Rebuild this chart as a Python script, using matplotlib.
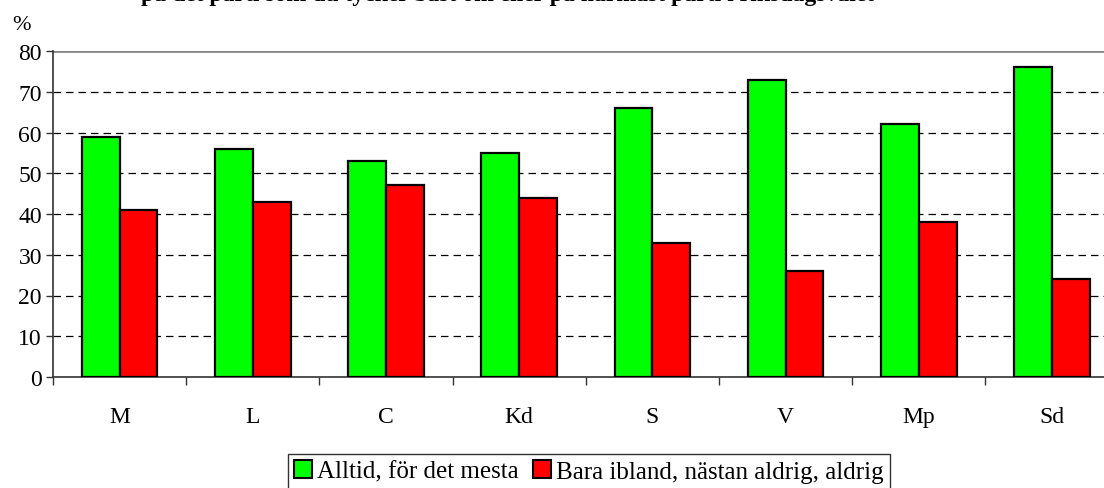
import matplotlib
matplotlib.use("Agg")
import matplotlib.pyplot as plt
import numpy as np
from matplotlib.patches import Patch

categories = ["M", "L", "C", "Kd", "S", "V", "Mp", "Sd"]
alltid = [59, 56, 53, 55, 66, 73, 62, 76]
bara = [41, 43, 47, 44, 33, 26, 38, 24]
series_names = ["Alltid, för det mesta", "Bara ibland, nästan aldrig, aldrig"]
yticks = [0, 10, 20, 30, 40, 50, 60, 70, 80]
title = "på det parti som du tycker bäst om eller på närmast parti i riksdagsvalet"

plt.rcParams['font.family'] = ['Liberation Serif', 'DejaVu Serif']

W, H = 1104, 489
fig = plt.figure(figsize=(W / 100, H / 100), dpi=100)
left, right, bottom, top = 53, 1118.6, 378, 52
ax = fig.add_axes([left / W, (H - bottom) / H, (right - left) / W, (bottom - top) / H])

x = np.arange(len(categories))
bw = 0.284
ax.bar(x - bw / 2, alltid, bw, color="#00ff00", edgecolor="black", linewidth=1.6, zorder=3)
ax.bar(x + bw / 2, bara, bw, color="#ff0000", edgecolor="black", linewidth=1.6, zorder=3)

ax.set_xlim(-0.5, len(categories) - 0.5)
ax.set_ylim(0, 80)
ax.set_yticks(yticks)
ax.set_yticklabels([str(v) for v in yticks], fontsize=17)
ax.set_xticks(x)
ax.set_xticklabels(categories, fontsize=17)
ax.tick_params(axis='x', length=0, pad=21)
ax.set_xticks(np.arange(len(categories) + 1) - 0.5, minor=True)
ax.tick_params(axis='x', which='minor', length=6, width=1, color='#333333')
ax.tick_params(axis='y', length=5, width=1, color='#333333', pad=3)

for v in yticks[1:-1]:
    ax.axhline(v, color='black', linestyle=(0, (6, 4)), linewidth=0.9, zorder=1)
ax.axhline(80, color='#888888', linewidth=2, zorder=1)

ax.spines['right'].set_visible(False)
ax.spines['top'].set_visible(False)
ax.spines['left'].set_linewidth(1.2)
ax.spines['bottom'].set_linewidth(1.2)
ax.spines['left'].set_color('#333333')
ax.spines['bottom'].set_color('#333333')

fig.text(12 / W, 1 - 25 / H, "%", fontsize=16, ha='left', va='center')
fig.text(508 / W, 1 - 1 / H, title, fontsize=17, fontweight='bold', ha='center', va='baseline')

handles = [Patch(facecolor="#00ff00", edgecolor="black", linewidth=1.5),
           Patch(facecolor="#ff0000", edgecolor="black", linewidth=1.5)]
leg = fig.legend(handles, series_names, loc='upper left',
                 bbox_to_anchor=(288 / W, 1 - 455 / H), ncol=2, fontsize=18,
                 frameon=True, fancybox=False, edgecolor='black',
                 handlelength=0.7, handleheight=0.7, handletextpad=0.2,
                 columnspacing=0.6, borderpad=0.25, borderaxespad=0)
leg.get_frame().set_linewidth(1.0)

fig.savefig("out.png", dpi=100)
